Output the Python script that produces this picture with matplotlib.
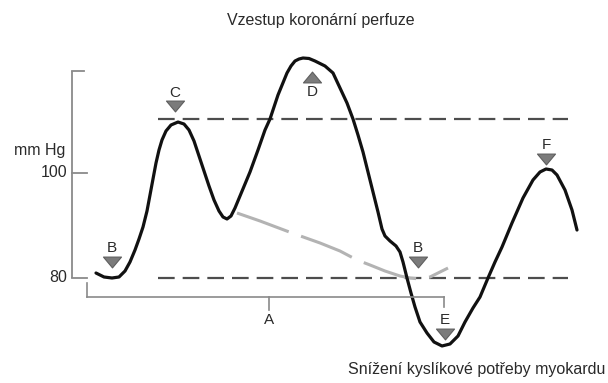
import matplotlib
matplotlib.use("Agg")
import matplotlib.pyplot as plt
from matplotlib.path import Path

plt.rcParams['font.family'] = ['Liberation Sans', 'DejaVu Sans']

# Aortic pressure trace (time in ms, pressure in mm Hg)
time_ms = [48, 64, 80, 94, 106, 116, 126, 134, 142, 150, 156, 162, 168, 174, 180,
           188, 198, 212, 224, 234, 244, 254, 264, 274, 284, 294, 302, 310, 318,
           326, 336, 346, 356, 372, 386, 396, 412, 430, 438, 446, 454, 462, 474,
           486, 506, 522, 536, 550, 562, 572, 582, 592, 602, 612, 620, 626, 636,
           648, 656, 662, 670, 678, 686, 696, 710, 724, 740, 756, 772, 786, 802,
           816, 832, 846, 860, 880, 902, 922, 936, 948, 960, 970, 986, 1000, 1010]
pressure = [80.95, 80.19, 80.0, 80.19, 81.33, 83.05, 85.33, 87.43, 89.71, 92.76,
            95.81, 98.86, 101.90, 104.38, 106.29, 108.0, 109.14, 109.71, 109.33,
            108.19, 106.10, 103.24, 100.38, 97.52, 94.86, 92.76, 91.62, 91.24,
            91.81, 93.33, 95.62, 97.90, 100.19, 104.38, 108.19, 110.29, 114.86,
            119.05, 120.38, 121.33, 121.71, 121.90, 121.81, 121.33, 120.38, 119.05,
            116.19, 113.33, 110.29, 107.24, 104.0, 100.19, 96.38, 92.57, 89.33,
            88.0, 87.05, 86.10, 84.95, 83.05, 80.0, 77.14, 74.48, 71.62, 69.52,
            67.81, 67.05, 67.43, 68.95, 71.62, 74.29, 76.38, 80.0, 83.05, 85.90,
            90.48, 95.24, 98.67, 100.19, 100.76, 100.57, 99.62, 96.76, 92.95, 89.14]

# Unassisted diastolic decay
unassisted_t = [330, 376, 440, 496, 536, 570, 596, 626, 656, 676, 696, 716, 732, 752]
unassisted_p = [92.38, 90.86, 88.57, 86.67, 85.14, 83.43, 82.48, 81.33, 80.38,
                80.0, 79.81, 80.19, 80.95, 81.90]

# Reference levels
upper_level = 110.3
lower_level = 80.0
level_span = [172, 992]

# Axis scale
y_ticks = [100, 80]
y_tick_labels = ["100", "80"]
y_axis_top = 119.4

# Point markers: label, time, pressure of triangle, direction
marker_labels = ["B", "C", "D", "B", "E", "F"]
marker_t = [80, 206, 480, 692, 746, 948]
marker_p = [83.05, 112.67, 118.19, 83.05, 69.33, 102.67]
marker_dir = ["down", "down", "up", "down", "down", "down"]
label_p = [85.71, 115.24, 115.43, 85.71, 72.0, 105.33]

# Cycle bracket
bracket_t = [30, 394, 744]
bracket_p = 76.38

down_tri = Path([(-1, 0.6), (1, 0.6), (0, -0.6), (-1, 0.6)],
                [Path.MOVETO, Path.LINETO, Path.LINETO, Path.CLOSEPOLY])
up_tri = Path([(-1, -0.6), (1, -0.6), (0, 0.6), (-1, -0.6)],
              [Path.MOVETO, Path.LINETO, Path.LINETO, Path.CLOSEPOLY])
tri_shapes = {"down": down_tri, "up": up_tri}

fig = plt.figure(figsize=(6.08, 3.83), dpi=100)
ax = fig.add_axes([0, 0, 1, 1])
ax.set_xlim(-144, 1072)
ax.set_ylim(60, 132.95)
ax.axis("off")

axis_col = "#8a8a8a"
text_col = "#2a2a2a"

# y axis with inward ticks
ax.plot([0, 0], [lower_level, y_axis_top], color=axis_col, lw=1.3, solid_capstyle="butt")
ax.plot([0, 24], [y_axis_top, y_axis_top], color=axis_col, lw=1.3)
for v, lab in zip(y_ticks, y_tick_labels):
    ax.plot([0, 30], [v, v], color=axis_col, lw=1.3)
    ax.text(-10, v, lab, ha="right", va="center", fontsize=11.5, color=text_col)
ax.text(-14, 104.2, "mm Hg", ha="right", va="center", fontsize=11.5, color=text_col)

# reference dashed levels
for lvl in (upper_level, lower_level):
    ax.plot(level_span, [lvl, lvl], color="#4d4d4d", lw=1.6,
            linestyle=(0, (7.5, 3.6)), dash_capstyle="butt")

# unassisted pressure (grey dashes)
ax.plot(unassisted_t, unassisted_p, color="#b3b3b3", lw=2.2,
        linestyle=(0, (18, 4.3)), solid_capstyle="round")

# pressure trace
ax.plot(time_ms, pressure, color="#111111", lw=2.3, solid_joinstyle="round",
        solid_capstyle="round")

# markers and letters
for lab, t, p, d, lp in zip(marker_labels, marker_t, marker_p, marker_dir, label_p):
    ax.plot([t], [p], marker=tri_shapes[d], markersize=13, color="#7b7b7b",
            markeredgecolor="#5f5f5f", markeredgewidth=0.8, linestyle="none")
    ax.text(t, lp, lab, ha="center", va="center", fontsize=11, color=text_col)

# cycle bracket with label A
ax.plot([bracket_t[0], bracket_t[0]], [79.05, bracket_p], color=axis_col, lw=1.2)
ax.plot([bracket_t[0], bracket_t[2]], [bracket_p, bracket_p], color=axis_col, lw=1.2)
ax.plot([bracket_t[2], bracket_t[2]], [bracket_p, 74.5], color=axis_col, lw=1.2)
ax.plot([bracket_t[1], bracket_t[1]], [bracket_p, 73.9], color=axis_col, lw=1.2)
ax.text(bracket_t[1], 72.0, "A", ha="center", va="center", fontsize=11, color=text_col)

# captions
ax.text(498, 129.14, "Vzestup koronární perfuze", ha="center", va="center",
        fontsize=11.5, color=text_col)
ax.text(1066, 62.48, "Snížení kyslíkové potřeby myokardu", ha="right", va="center",
        fontsize=11.5, color=text_col)

fig.savefig("out.png", dpi=100)
